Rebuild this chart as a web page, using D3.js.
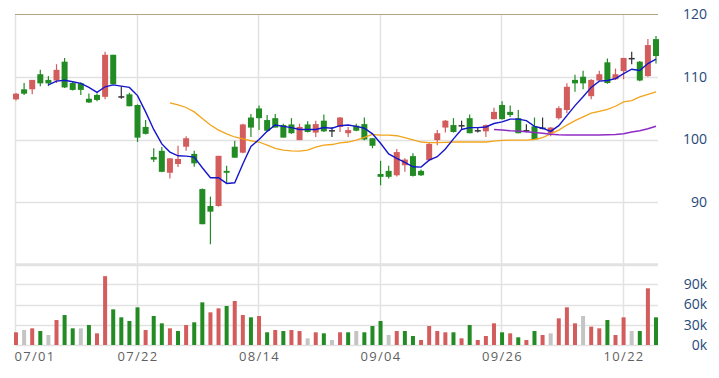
<!DOCTYPE html>
<html lang="en">
<head>
<meta charset="utf-8">
<title>candles</title>
<script src="https://cdn.jsdelivr.net/npm/d3@7"></script>
<style>
  body { margin: 0; background: #fff; }
  svg { display: block; font-family: "Open Sans", sans-serif; }
</style>
</head>
<body>
<script>
// daily bars, index 0..79
var opens  = [106.4,108.0,108.0,110.4,109.5,109.4,112.4,109.0,108.95,106.5,
              107.1,106.8,113.5,106.9,107.2,105.5,102.0,97.2,98.2,94.7,
              96.1,98.85,97.7,92.1,89.4,89.4,95.0,98.85,97.9,103.5,
              104.95,103.1,103.4,102.3,102.4,99.9,102.4,101.1,103.0,101.5,
              102.0,101.0,102.2,102.45,100.2,94.5,95.0,94.3,95.9,97.35,
              95.0,96.7,99.9,101.9,102.3,102.3,103.4,101.5,101.3,103.25,
              105.5,104.4,103.4,101.5,102.1,101.9,101.0,103.4,104.7,109.5,
              110.0,106.9,109.4,112.3,109.6,110.9,113.0,112.4,110.1,116.0];
var highs  = [107.4,109.0,109.5,111.1,110.1,112.0,113.0,109.3,109.1,107.35,
              107.35,114.0,113.5,108.5,107.45,105.6,103.1,98.6,98.8,97.0,
              99.0,100.5,98.2,92.2,90.9,97.4,95.8,99.8,102.5,104.05,
              105.4,103.9,104.05,102.5,103.4,102.5,102.9,103.0,104.0,102.0,
              103.6,102.0,102.5,103.5,100.2,96.6,95.8,98.5,97.0,97.8,
              95.2,99.6,101.5,103.1,103.4,103.0,104.0,101.9,102.4,105.05,
              106.1,105.4,104.7,102.45,103.5,103.5,102.0,105.3,108.95,110.3,
              110.95,109.6,110.95,112.9,111.3,113.0,114.0,112.5,116.0,116.5];
var lows   = [106.2,107.1,107.2,108.5,108.5,109.0,108.2,107.8,107.1,105.8,
              106.1,106.4,108.8,106.5,105.3,99.6,100.8,96.4,94.8,93.8,
              95.6,98.2,95.65,86.5,83.3,89.3,93.0,97.1,97.8,100.4,
              101.5,101.2,101.9,100.3,100.9,99.9,101.1,100.4,101.2,100.4,
              101.2,100.4,101.3,99.9,98.6,92.7,93.8,94.1,94.85,94.1,
              94.2,96.6,99.1,101.1,101.1,101.6,101.0,101.1,100.4,103.2,
              103.2,103.6,101.0,101.1,100.0,101.6,100.5,103.2,104.2,107.6,
              108.0,106.4,109.3,108.9,109.5,109.6,112.0,109.3,110.0,112.1];
var closes = [107.3,107.3,109.5,108.95,108.95,111.1,108.3,107.9,107.9,105.9,
              106.3,113.5,108.8,106.9,105.3,100.3,100.9,96.8,94.85,97.0,
              96.9,100.2,96.2,86.5,88.5,97.4,94.7,97.1,102.4,101.9,
              103.4,101.4,101.9,100.3,101.0,102.0,101.2,102.45,101.3,101.5,
              103.5,101.5,101.4,100.0,99.0,94.05,94.05,98.0,96.8,94.2,
              94.3,99.3,101.0,103.0,101.2,102.3,101.0,101.5,102.3,104.4,
              103.25,103.9,101.0,101.5,100.0,101.9,101.9,105.0,108.4,108.95,
              108.95,109.5,110.4,109.0,110.4,113.0,113.0,109.4,115.05,113.3];
var volumes = [18800,22200,24700,20700,14800,37000,44400,24700,24700,29600,
               17300,102000,52800,41000,35600,55800,22200,43000,32100,24700,
               20700,29600,33600,63200,48400,54300,57800,65200,44400,41000,
               43000,18800,22200,20700,22200,20700,9900,18800,17300,7400,
               18800,18800,20700,18800,28100,35600,14800,20700,20700,13300,
               7400,28100,20700,18800,18800,9900,29600,7400,13300,32100,
               18800,17300,11400,7400,20700,14800,17300,39500,55800,32100,
               43000,27200,24700,37000,14800,41000,20700,20700,84000,41000];
// volume colour: 1 up, -1 down, 0 unchanged
var volDir = [1,0,1,-1,0,1,-1,-1,0,-1,
              1,1,-1,-1,-1,-1,1,-1,-1,1,
              -1,1,-1,-1,1,1,-1,1,1,-1,
              1,-1,1,-1,1,1,0,1,-1,0,
              1,-1,0,-1,-1,-1,0,1,-1,-1,
              1,1,1,1,-1,1,-1,1,1,1,
              -1,1,-1,1,-1,1,0,1,1,1,
              0,1,1,-1,1,1,0,-1,1,-1];
// moving averages (start index 4, 19, 59)
var ma5 = [108.7,109.3,109.45,109.2,108.95,108.3,107.5,108.4,108.7,108.5,
           108.3,107.0,104.4,101.6,99.3,98.0,97.4,97.35,97.2,95.5,
           93.9,93.9,93.0,93.1,96.1,98.9,100.0,101.3,102.3,102.1,
           101.9,101.6,101.6,101.6,101.9,101.8,102.2,102.3,102.1,101.8,
           100.9,99.4,97.7,97.0,96.35,95.65,95.6,96.7,97.25,98.5,
           100.1,101.6,101.9,101.9,102.0,102.55,102.8,103.25,103.25,103.0,
           102.1,101.8,101.3,102.2,103.8,105.4,106.8,108.3,109.3,109.4,
           109.7,110.5,111.2,111.0,112.1,112.8];
var ma20 = [105.85,105.5,105.1,104.4,103.35,102.3,101.5,100.9,100.4,100.1,
            99.8,99.6,99.1,98.6,98.3,98.2,98.15,98.3,98.8,99.1,
            99.2,99.45,99.6,99.9,100.35,100.8,100.7,100.7,100.6,100.3,
            99.95,99.6,99.5,99.5,99.55,99.6,99.6,99.6,99.6,99.6,
            99.75,99.85,99.9,99.9,99.9,100.0,100.3,100.9,101.5,102.3,
            103.0,103.6,104.2,104.5,104.8,105.3,106.0,106.2,106.8,107.2,
            107.6];
var ma60 = [101.6,101.5,101.4,101.35,101.25,101.1,101.0,100.85,100.75,100.7,
            100.7,100.7,100.7,100.7,100.75,100.8,100.9,101.2,101.4,101.7,
            102.1];
var tickIdx = [0,15,30,45,60,75];
var tickLabels = ["07/01","07/22","08/14","09/04","09/26","10/22"];
var priceTicks = [90,100,110,120];
var volTicks = [0,30000,60000,90000];

var w = 719, h = 378;
var upColor = "#d35d5d", downColor = "#238b23", flatColor = "#333";

var bars = opens.map(function(o, i) {
  return {i: i, o: o, h: highs[i], l: lows[i], c: closes[i], v: volumes[i], vd: volDir[i]};
});

var svg = d3.select("body").append("svg")
  .attr("width", w)
  .attr("height", h);

var x = d3.scaleLinear().domain([0, 79]).range([16, 656]);
var y = d3.scaleLinear().domain([80, 120]).range([265, 14]);
var yv = d3.scaleLinear().domain([0, 120000]).range([345, 264]);
var left = 15, right = 658;

// grid lines
svg.selectAll(".pgrid")
  .data([80, 90, 100, 110])
  .enter().append("line")
  .attr("x1", left).attr("x2", right)
  .attr("y1", function(d) { return Math.round(y(d)) + 0.5; })
  .attr("y2", function(d) { return Math.round(y(d)) + 0.5; })
  .attr("stroke", "#e2e2e2").attr("stroke-width", 1.5);

svg.selectAll(".vgrid")
  .data([0, 30000, 60000, 90000, 120000])
  .enter().append("line")
  .attr("x1", left).attr("x2", right)
  .attr("y1", function(d) { return Math.round(yv(d)) + 0.5; })
  .attr("y2", function(d) { return Math.round(yv(d)) + 0.5; })
  .attr("stroke", "#e2e2e2").attr("stroke-width", function(d) { return d == 120000 ? 2.5 : 1.5; });

svg.selectAll(".xgrid")
  .data(tickIdx)
  .enter().append("line")
  .attr("x1", function(d) { return Math.round(x(d)) - 0.5; })
  .attr("x2", function(d) { return Math.round(x(d)) - 0.5; })
  .attr("y1", 14).attr("y2", 345)
  .attr("stroke", "#e2e2e2").attr("stroke-width", 1.5);

// top border
svg.append("line")
  .attr("x1", left).attr("x2", right)
  .attr("y1", 14.5).attr("y2", 14.5)
  .attr("stroke", "#b3a484").attr("stroke-width", 1.2);

function candleColor(d) {
  if (d.c > d.o) return upColor;
  if (d.c < d.o) return downColor;
  return flatColor;
}

// volume bars
svg.selectAll(".vol")
  .data(bars)
  .enter().append("rect")
  .attr("x", function(d) { return x(d.i) - 2; })
  .attr("width", 4)
  .attr("y", function(d) { return yv(d.v); })
  .attr("height", function(d) { return yv(0) - yv(d.v); })
  .attr("fill", function(d) { return d.vd > 0 ? upColor : (d.vd < 0 ? downColor : "#c4c4c4"); });

// wicks
svg.selectAll(".wick")
  .data(bars)
  .enter().append("line")
  .attr("x1", function(d) { return x(d.i); })
  .attr("x2", function(d) { return x(d.i); })
  .attr("y1", function(d) { return y(d.h); })
  .attr("y2", function(d) { return y(d.l); })
  .attr("stroke", candleColor)
  .attr("stroke-width", 1.2);

// bodies
svg.selectAll(".body")
  .data(bars)
  .enter().append("rect")
  .attr("x", function(d) { return x(d.i) - 3; })
  .attr("width", 6)
  .attr("y", function(d) { return y(Math.max(d.o, d.c)); })
  .attr("height", function(d) { return Math.max(1.5, Math.abs(y(d.o) - y(d.c))); })
  .attr("fill", candleColor);

// moving averages
function maLine(vals, start, color, sw) {
  var line = d3.line()
    .x(function(d, k) { return x(start + k); })
    .y(function(d) { return y(d); });
  svg.append("path")
    .datum(vals)
    .attr("d", line)
    .attr("fill", "none")
    .attr("stroke", color)
    .attr("stroke-width", sw);
}
maLine(ma20, 19, "#f2a41c", 1.3);
maLine(ma60, 59, "#8e2bc4", 1.5);
maLine(ma5, 4, "#1515cc", 1.4);

// right axes
var pAxis = svg.append("g")
  .attr("transform", "translate(707,0)")
  .call(d3.axisRight(y).tickValues(priceTicks).tickSize(0).tickPadding(0));
var vAxis = svg.append("g")
  .attr("transform", "translate(707,0)")
  .call(d3.axisRight(yv).tickValues(volTicks).tickSize(0).tickPadding(0)
    .tickFormat(function(d) { return (d / 1000) + "k"; }));
[pAxis, vAxis].forEach(function(g) {
  g.select(".domain").remove();
  g.selectAll("text")
    .attr("text-anchor", "end")
    .attr("fill", "#26497a")
    .style("font-size", "14px")
    .style("font-family", "Open Sans, sans-serif");
});

// date axis
var xAxis = svg.append("g")
  .attr("transform", "translate(0,345)")
  .call(d3.axisBottom(x).tickValues(tickIdx).tickSize(0).tickPadding(7)
    .tickFormat(function(d, k) { return tickLabels[k]; }));
xAxis.select(".domain").remove();
xAxis.selectAll("text")
  .attr("fill", "#5f5f5f")
  .style("font-size", "13px")
  .style("letter-spacing", "1.3px")
  .style("font-family", "Open Sans, sans-serif")
  .attr("text-anchor", function(d) { return d == 0 ? "start" : "middle"; })
  .attr("x", function(d) { return d == 0 ? -2 : 0; });
</script>
</body>
</html>
